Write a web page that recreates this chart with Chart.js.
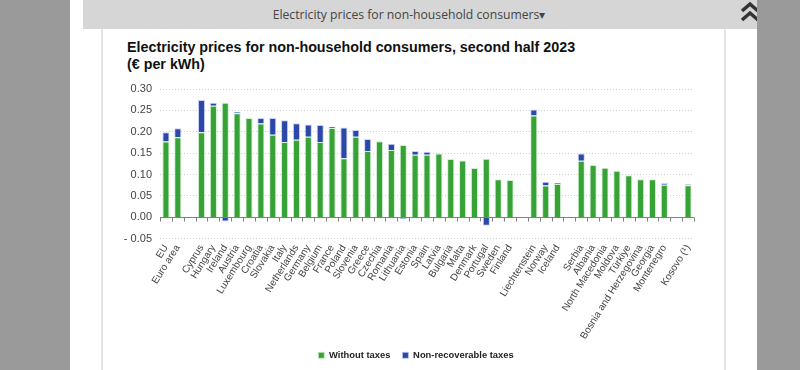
<!DOCTYPE html>
<html>
<head>
<meta charset="utf-8">
<script src="https://cdn.jsdelivr.net/npm/chart.js@4.4.0/dist/chart.umd.min.js"></script>
<style>
    body { margin: 0; width: 800px; height: 370px; overflow: hidden; background: #fff; position: relative; font-family: "Liberation Sans", Arial, sans-serif; }
    .side { position: absolute; top: 0; height: 370px; background: #9a9a9a; z-index: 5; }
    .header { position: absolute; left: 83px; top: 0; width: 674px; height: 29px; background: #d6d6d6; }
    .header-text { position: absolute; left: 0; width: 652px; top: 6px; text-align: center; font: 12.2px "Open Sans", sans-serif; color: #444; }
    .chevron { position: absolute; left: 739px; top: 1px; }
    .panel { position: absolute; top: 29px; width: 2px; height: 341px; background: #e4e4e4; }
    .title { position: absolute; left: 127px; top: 39px; font: bold 14.3px "Liberation Sans", Arial, sans-serif; line-height: 17px; color: #111; }
    .chart-box { position: absolute; left: 104px; top: 70px; width: 624px; height: 300px; }
</style>
</head>
<body>
<div class="side" style="left:0;width:70px"></div>
<div class="side" style="left:757px;width:43px"></div>
<div class="header">
    <div class="header-text">Electricity prices for non-household consumers&#9662;</div>
</div>
<svg class="chevron" width="22" height="22" viewBox="0 0 22 22">
    <polyline points="3,10 11,3 19,10" fill="none" stroke="#333" stroke-width="3.5"/>
    <polyline points="3,19 11,12 19,19" fill="none" stroke="#333" stroke-width="3.5"/>
</svg>
<div class="panel" style="left:101px"></div>
<div class="panel" style="left:724px"></div>
<div class="title">Electricity prices for non-household consumers, second half 2023<br>(€ per kWh)</div>
<div class="chart-box"><canvas id="priceChart"></canvas></div>

<script>
// Data (empty labels are spacer slots)
const categories = ['EU', 'Euro area', '', 'Cyprus', 'Hungary', 'Ireland', 'Austria', 'Luxembourg', 'Croatia', 'Slovakia',
    'Italy', 'Netherlands', 'Germany', 'Belgium', 'France', 'Poland', 'Slovenia', 'Greece', 'Czechia', 'Romania',
    'Lithuania', 'Estonia', 'Spain', 'Latvia', 'Bulgaria', 'Malta', 'Denmark', 'Portugal', 'Sweden', 'Finland', '',
    'Liechtenstein', 'Norway', 'Iceland', '', 'Serbia', 'Albania', 'North Macedonia', 'Moldova', 'Türkiye',
    'Bosnia and Herzegovina', 'Georgia', 'Montenegro', '', 'Kosovo (¹)'];

const withoutTaxes = [0.177, 0.187, null, 0.199, 0.261, 0.268, 0.243, 0.232, 0.219, 0.193,
    0.176, 0.181, 0.188, 0.176, 0.209, 0.138, 0.188, 0.155, 0.178, 0.157,
    0.169, 0.146, 0.146, 0.149, 0.136, 0.133, 0.115, 0.137, 0.089, 0.087, null,
    0.238, 0.074, 0.078, null, 0.132, 0.122, 0.116, 0.109, 0.098,
    0.089, 0.089, 0.076, null, 0.075];

const nonRecoverableTaxes = [0.022, 0.021, null, 0.075, 0.007, -0.010, 0.004, null, 0.013, 0.039,
    0.051, 0.039, 0.029, 0.040, 0.003, 0.072, 0.016, 0.028, null, 0.015,
    -0.005, 0.009, 0.007, null, null, null, null, -0.020, null, null, null,
    0.014, 0.009, 0.002, null, 0.017, null, null, null, null,
    null, null, 0.004, null, 0.002];

const yTickLabels = ['- 0.05', '0.00', '0.05', '0.10', '0.15', '0.20', '0.25', '0.30'];

const green = '#37a337';
const blue = '#2c47a9';

// Solid zero line with small tick marks at the category boundaries
const zeroAxis = {
    id: 'zeroAxis',
    afterDatasetsDraw(chart) {
        const xs = chart.scales.x;
        const ys = chart.scales.y;
        const y0 = Math.round(ys.getPixelForValue(0)) + 0.5;
        const slot = (xs.right - xs.left) / categories.length;
        const ctx = chart.ctx;
        ctx.save();
        ctx.strokeStyle = '#808080';
        ctx.lineWidth = 1;
        ctx.beginPath();
        ctx.moveTo(xs.left, y0);
        ctx.lineTo(xs.right, y0);
        for (let i = 0; i <= categories.length; i++) {
            const x = Math.round(xs.left + i * slot) + 0.5;
            ctx.moveTo(x, y0);
            ctx.lineTo(x, y0 + 4);
        }
        ctx.stroke();
        ctx.restore();
    }
};

new Chart(document.getElementById('priceChart'), {
    type: 'bar',
    data: {
        labels: categories,
        datasets: [
            {
                label: 'Without taxes',
                data: withoutTaxes,
                backgroundColor: green,
                borderColor: 'rgba(200, 235, 200, 0.8)',
                borderWidth: 1
            },
            {
                label: 'Non-recoverable taxes',
                data: nonRecoverableTaxes,
                backgroundColor: blue,
                borderColor: 'rgba(190, 200, 240, 0.8)',
                borderWidth: 1
            }
        ]
    },
    options: {
        responsive: true,
        maintainAspectRatio: false,
        animation: false,
        datasets: {
            bar: {
                categoryPercentage: 1,
                barPercentage: 0.6
            }
        },
        layout: {
            padding: { top: 19, right: 0, bottom: 0, left: 0 }
        },
        plugins: {
            legend: {
                position: 'bottom',
                labels: {
                    boxWidth: 6,
                    boxHeight: 6,
                    padding: 12,
                    color: '#222',
                    font: { family: '"Liberation Sans", Arial, sans-serif', size: 9.4, weight: 'bold' }
                }
            },
            tooltip: { enabled: false }
        },
        scales: {
            x: {
                stacked: true,
                grid: { display: false, drawTicks: false },
                border: { display: false },
                ticks: {
                    autoSkip: false,
                    minRotation: 58,
                    maxRotation: 58,
                    padding: 4,
                    color: '#444',
                    font: { family: '"Liberation Sans", Arial, sans-serif', size: 10 }
                },
                afterFit(scale) {
                    scale.height = 100;
                }
            },
            y: {
                stacked: true,
                min: -0.05,
                max: 0.30,
                grid: { color: '#cfcfcf', drawTicks: false },
                border: { display: false, dash: [1, 2] },
                ticks: {
                    stepSize: 0.05,
                    padding: 8,
                    color: '#444',
                    font: { family: '"Liberation Sans", Arial, sans-serif', size: 11 },
                    callback: (value, index) => yTickLabels[index]
                },
                afterFit(scale) {
                    scale.width = 56;
                }
            },
            // empty right-hand spacer so the legend centres under the whole panel
            spacer: {
                type: 'linear',
                position: 'right',
                grid: { display: false, drawTicks: false },
                border: { display: false },
                ticks: { display: false },
                afterFit(scale) {
                    scale.width = 34;
                }
            }
        }
    },
    plugins: [zeroAxis]
});
</script>
</body>
</html>
